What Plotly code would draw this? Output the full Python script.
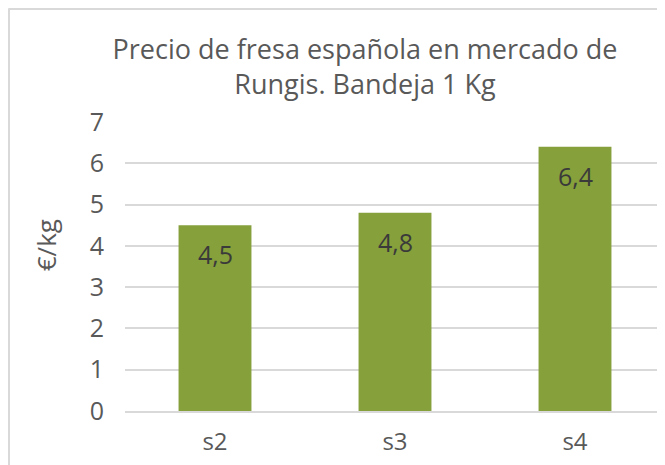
import plotly.graph_objects as go

semanas = ['s2', 's3', 's4']
precios = [4.5, 4.8, 6.4]
etiquetas = ['4,5', '4,8', '6,4']

verde = '#86A03C'
gris = '#595959'
fuente = 'Open Sans'

fig = go.Figure(go.Bar(x=semanas, y=precios, marker=dict(color=verde, line=dict(width=0)),
                       width=0.405, hoverinfo='skip'))

for s, p, t in zip(semanas, precios, etiquetas):
    fig.add_annotation(x=s, y=p, text=t, showarrow=False, yanchor='middle', yshift=-29,
                       font=dict(family=fuente, size=25, color='#3A3A3A'))

fig.add_annotation(xref='paper', yref='paper', x=-0.146, y=0.574, text='€/kg', textangle=-90,
                   xanchor='center', yanchor='middle', showarrow=False,
                   font=dict(family=fuente, size=26, color=gris))

# marco del gráfico
fig.add_shape(type='line', xref='paper', yref='paper', x0=-116 / 540, x1=-116 / 540, y0=-0.3, y1=1.394,
              line=dict(color='#D9D9D9', width=2))
fig.add_shape(type='line', xref='paper', yref='paper', x0=-116 / 540, x1=1.1, y0=1 + 113 / 289, y1=1 + 113 / 289,
              line=dict(color='#D9D9D9', width=2))

fig.update_layout(
    width=665, height=465,
    margin=dict(l=117, r=8, t=114, b=62),
    paper_bgcolor='white', plot_bgcolor='white',
    showlegend=False,
    title=dict(text='Precio de fresa española en mercado de<br>Rungis. Bandeja 1 Kg',
               x=357 / 665, xanchor='center', y=1 - 51 / 465, yanchor='middle',
               font=dict(family=fuente, size=27, color=gris)),
    font=dict(family=fuente, color=gris),
    yaxis=dict(range=[0, 7], dtick=1, showgrid=True, gridcolor='#D9D9D9', gridwidth=1.5,
               zeroline=False, showline=False, ticks='', ticklabelstandoff=20,
               tickfont=dict(family=fuente, size=25, color=gris)),
    xaxis=dict(showline=True, linecolor='#D9D9D9', linewidth=2, ticks='',
               tickfont=dict(family=fuente, size=24, color=gris), ticklabelstandoff=8),
)

fig.write_html('out.html')
